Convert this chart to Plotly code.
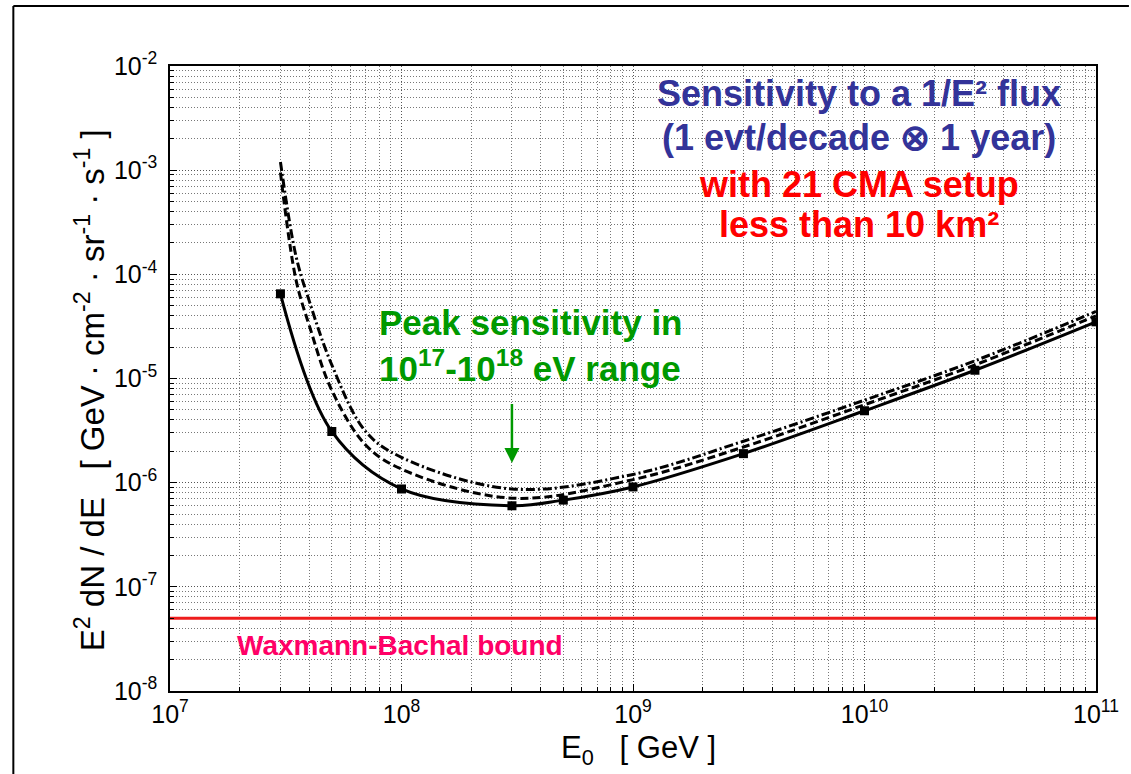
import plotly.graph_objects as go

# ---------------- data ----------------
energy = [3e7, 5e7, 1e8, 3e8, 5e8, 1e9, 3e9, 1e10, 3e10, 1e11]
sens_solid = [6.5e-5, 3.1e-6, 8.7e-7, 6.0e-7, 6.8e-7, 9.1e-7, 1.9e-6, 4.9e-6, 1.2e-5, 3.5e-5]

energy_alt = [3e7, 3.5e7, 4e7, 5e7, 7e7, 1e8, 3e8, 1e9, 3e9, 1e10, 3e10, 1e11]
sens_dashed = [9.5e-4, 8.9e-5, 3.2e-5, 7.7e-6, 2.3e-6, 1.35e-6, 7.1e-7, 1.07e-6, 2.2e-6, 5.6e-6, 1.35e-5, 4.0e-5]
sens_dashdot = [1.2e-3, 1.5e-4, 5.5e-5, 1.35e-5, 3.1e-6, 1.75e-6, 8.7e-7, 1.2e-6, 2.5e-6, 6.2e-6, 1.48e-5, 4.4e-5]

wb_energy = [1e7, 1e11]
wb_bound = [5e-8, 5e-8]

x_tickvals = [1e7, 1e8, 1e9, 1e10, 1e11]
x_ticktext = ["10<sup>7</sup>", "10<sup>8</sup>", "10<sup>9</sup>", "10<sup>10</sup>", "10<sup>11</sup>"]
y_tickvals = [1e-8, 1e-7, 1e-6, 1e-5, 1e-4, 1e-3, 1e-2]
y_ticktext = ["10<sup>-8</sup>", "10<sup>-7</sup>", "10<sup>-6</sup>", "10<sup>-5</sup>",
              "10<sup>-4</sup>", "10<sup>-3</sup>", "10<sup>-2</sup>"]

x_minor = [m * 10 ** k for k in range(7, 11) for m in range(2, 10)]
y_minor = [m * 10.0 ** k for k in range(-8, -2) for m in range(2, 10)]

FONT = "Liberation Sans"

fig = go.Figure()

fig.add_trace(go.Scatter(x=wb_energy, y=wb_bound, mode="lines",
                         line=dict(color="#EE1C1C", width=3), showlegend=False))
fig.add_trace(go.Scatter(x=energy_alt, y=sens_dashdot, mode="lines",
                         line=dict(color="black", width=3, dash="9px,3px,2px,3px", shape="spline"),
                         showlegend=False))
fig.add_trace(go.Scatter(x=energy_alt, y=sens_dashed, mode="lines",
                         line=dict(color="black", width=3, dash="8px,4px", shape="spline"),
                         showlegend=False))
fig.add_trace(go.Scatter(x=energy, y=sens_solid, mode="lines+markers",
                         line=dict(color="black", width=3, shape="spline"),
                         marker=dict(symbol="square", size=9, color="black"),
                         showlegend=False))

axis_common = dict(
    type="log",
    showline=True, linecolor="black", linewidth=1.5, mirror=True,
    ticks="inside", ticklen=7, tickcolor="black",
    showgrid=True, gridcolor="#555555", griddash="1px,2px", gridwidth=1,
    zeroline=False,
    tickfont=dict(family=FONT, size=25, color="black"),
)

minor_common = dict(ticks="inside", ticklen=4, tickcolor="black",
                    showgrid=True, gridcolor="#777777", griddash="1px,2px", gridwidth=1)

fig.update_xaxes(range=[7, 11], tickvals=x_tickvals, ticktext=x_ticktext,
                 minor=dict(tickvals=x_minor, **minor_common), **axis_common)
fig.update_yaxes(range=[-8, -2], tickvals=y_tickvals, ticktext=y_ticktext,
                 ticklabelstandoff=6,
                 minor=dict(tickvals=y_minor, **minor_common), **axis_common)

ann = []


def at(px, py):
    return dict(xref="paper", yref="paper", x=(px - 170) / 928, y=(691 - py) / 625,
                xanchor="center", yanchor="middle", showarrow=False)


# axis titles
ann.append(dict(text="E<sub>0</sub>   [ GeV ]", font=dict(family=FONT, size=31, color="black"),
                **at(640, 750)))
ann.append(dict(text="E<sup>2</sup> dN / dE   [ GeV · cm<sup>-2</sup> · sr<sup>-1</sup> · s<sup>-1</sup> ]",
                textangle=-90, font=dict(family=FONT, size=33, color="black"),
                **at(90, 390)))

BLUE = "#333399"
RED = "#FF0000"
GREEN = "#009900"
PINK = "#FF0066"


def txt(s, px, py, color, size):
    return dict(text="<b>" + s + "</b>", font=dict(family=FONT, size=size, color=color),
                **at(px, py))


ann.append(txt("Sensitivity to a 1/E² flux", 860, 94, BLUE, 36))
ann.append(txt("(1 evt/decade ⊗ 1 year)", 860, 137, BLUE, 36))
ann.append(txt("with 21 CMA setup", 860, 184, RED, 36))
ann.append(txt("less than 10 km²", 860, 225, RED, 36))
ann.append(txt("Peak sensitivity in", 531, 322, GREEN, 35))
ann.append(txt("10<sup>17</sup>-10<sup>18</sup> eV range", 531, 366, GREEN, 35))
ann.append(txt("Waxmann-Bachal bound", 400, 645, PINK, 28))

# arrow
ann.append(dict(x=8.477, y=-5.81, ax=8.477, ay=-5.23, xref="x", yref="y",
                axref="x", ayref="y", text="", showarrow=True,
                arrowhead=2, arrowsize=1.2, arrowwidth=2.5, arrowcolor=GREEN))

fig.update_layout(
    width=1131, height=774,
    margin=dict(l=170, r=33, t=66, b=83),
    paper_bgcolor="white", plot_bgcolor="white",
    annotations=ann,
    shapes=[
        dict(type="line", xref="paper", yref="paper",
             x0=(13 - 170) / 928, x1=(13 - 170) / 928, y0=(691 - 6) / 625, y1=(691 - 774) / 625,
             line=dict(color="black", width=2)),
        dict(type="line", xref="paper", yref="paper",
             x0=(13 - 170) / 928, x1=(1131 - 170) / 928, y0=(691 - 6) / 625, y1=(691 - 6) / 625,
             line=dict(color="black", width=2)),
    ],
)

fig.write_html("out.html")
